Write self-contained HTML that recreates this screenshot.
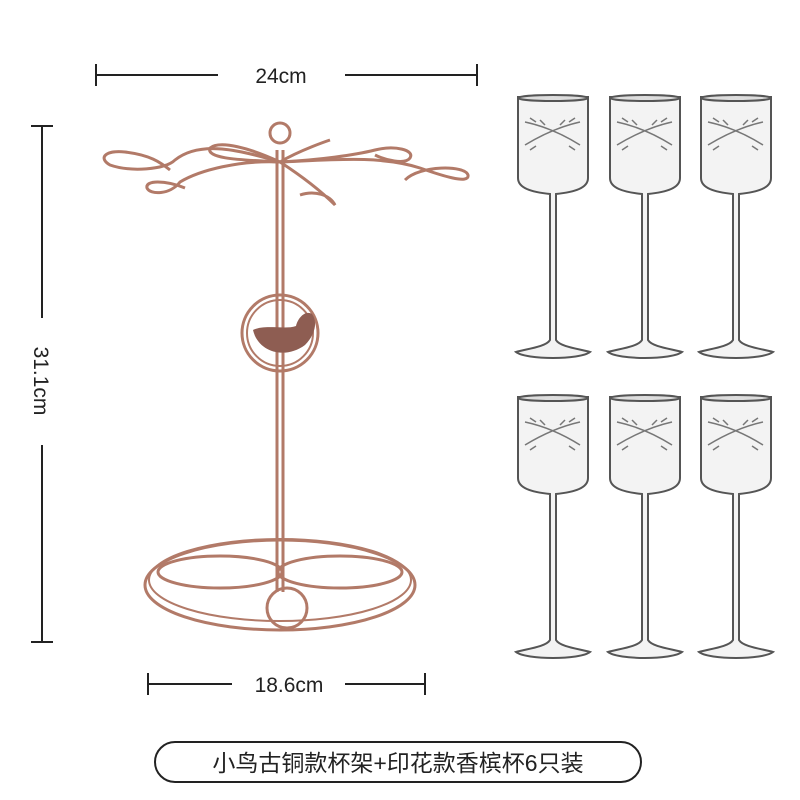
<!DOCTYPE html>
<html><head><meta charset="utf-8"><style>
body{margin:0;background:#fff;}
svg{display:block}
text{font-family:"Liberation Sans","Noto Sans CJK SC",sans-serif;}
</style></head><body>
<svg width="800" height="800" viewBox="0 0 800 800" xmlns="http://www.w3.org/2000/svg">
<rect width="800" height="800" fill="#fff"/>
<g stroke="#222" stroke-width="2" fill="none">
<line x1="96" y1="75" x2="218" y2="75"/><line x1="345" y1="75" x2="477" y2="75"/>
<line x1="96" y1="64" x2="96" y2="86"/><line x1="477" y1="64" x2="477" y2="86"/>
<line x1="42" y1="126" x2="42" y2="318"/><line x1="42" y1="445" x2="42" y2="642"/>
<line x1="31" y1="126" x2="53" y2="126"/><line x1="31" y1="642" x2="53" y2="642"/>
<line x1="148" y1="684" x2="232" y2="684"/><line x1="345" y1="684" x2="425" y2="684"/>
<line x1="148" y1="673" x2="148" y2="695"/><line x1="425" y1="673" x2="425" y2="695"/>
</g>
<text x="281" y="83" font-size="21" text-anchor="middle" fill="#222">24cm</text>
<text x="289" y="692" font-size="21" text-anchor="middle" fill="#222">18.6cm</text>
<text transform="translate(34,381) rotate(90)" font-size="21" text-anchor="middle" fill="#222">31.1cm</text>
<g stroke="#b27a68" stroke-width="3" fill="none">
<line x1="277" y1="150" x2="277" y2="592"/><line x1="283" y1="150" x2="283" y2="592"/>
<circle cx="280" cy="133" r="10"/>
<path d="M280 162 C240 150 200 140 175 160 C165 170 130 172 110 165 C98 158 105 150 125 152 C150 155 160 162 170 170"/>
<path d="M280 162 C240 160 200 170 180 182 C170 195 150 195 147 188 C145 180 165 180 185 188"/>
<path d="M280 162 C250 148 220 140 210 148 C205 160 250 160 280 162"/>
<path d="M280 162 C330 160 380 155 420 168 C440 175 470 185 468 175 C465 165 420 165 405 180"/>
<path d="M280 162 C320 160 355 155 375 150 C395 145 415 150 410 158 C405 165 385 160 375 155"/>
<path d="M280 162 C300 175 320 190 335 205 C330 195 315 190 300 195"/>
<path d="M280 162 C300 150 330 140 330 140"/>
<circle cx="280" cy="333" r="38"/><circle cx="280" cy="333" r="33" stroke-width="2"/>
<ellipse cx="280" cy="585" rx="135" ry="45"/>
<ellipse cx="280" cy="580" rx="131" ry="41" stroke-width="2"/>
<ellipse cx="220" cy="572" rx="62" ry="16"/>
<ellipse cx="340" cy="572" rx="62" ry="16"/>
<circle cx="287" cy="608" r="20"/>
</g>
<path d="M253 330 C258 352 285 360 305 345 C315 335 318 322 312 314 C305 310 298 318 296 326 C285 330 265 324 253 330Z" fill="#8e5d52"/>
<g id="g" stroke="#555" stroke-width="2" fill="#f3f3f3">
<path d="M518 97 L588 97 L588 178 C588 188 575 192 556 194 L556 340 C560 347 580 349 590 352 C580 360 526 360 516 352 C526 349 546 347 550 340 L550 194 C531 192 518 188 518 178Z"/>
<ellipse cx="553" cy="98" rx="35" ry="3" fill="#ddd"/>
<path d="M525 122 Q553 128 580 145 M525 145 Q553 128 580 122 M530 118 l6 4 M540 120 l5 5 M565 120 l-5 5 M575 118 l-6 4 M530 150 l6 -4 M575 150 l-6 -4" fill="none" stroke="#777" stroke-width="1.5"/>
</g>
<use href="#g" x="92"/><use href="#g" x="183"/>
<use href="#g" y="300"/><use href="#g" x="92" y="300"/><use href="#g" x="183" y="300"/>
<rect x="155" y="742" width="486" height="40" rx="20" fill="#fff" stroke="#222" stroke-width="2"/>
<text x="398" y="771" font-size="23" text-anchor="middle" fill="#222">小鸟古铜款杯架+印花款香槟杯6只装</text>
</svg>
</body></html>
